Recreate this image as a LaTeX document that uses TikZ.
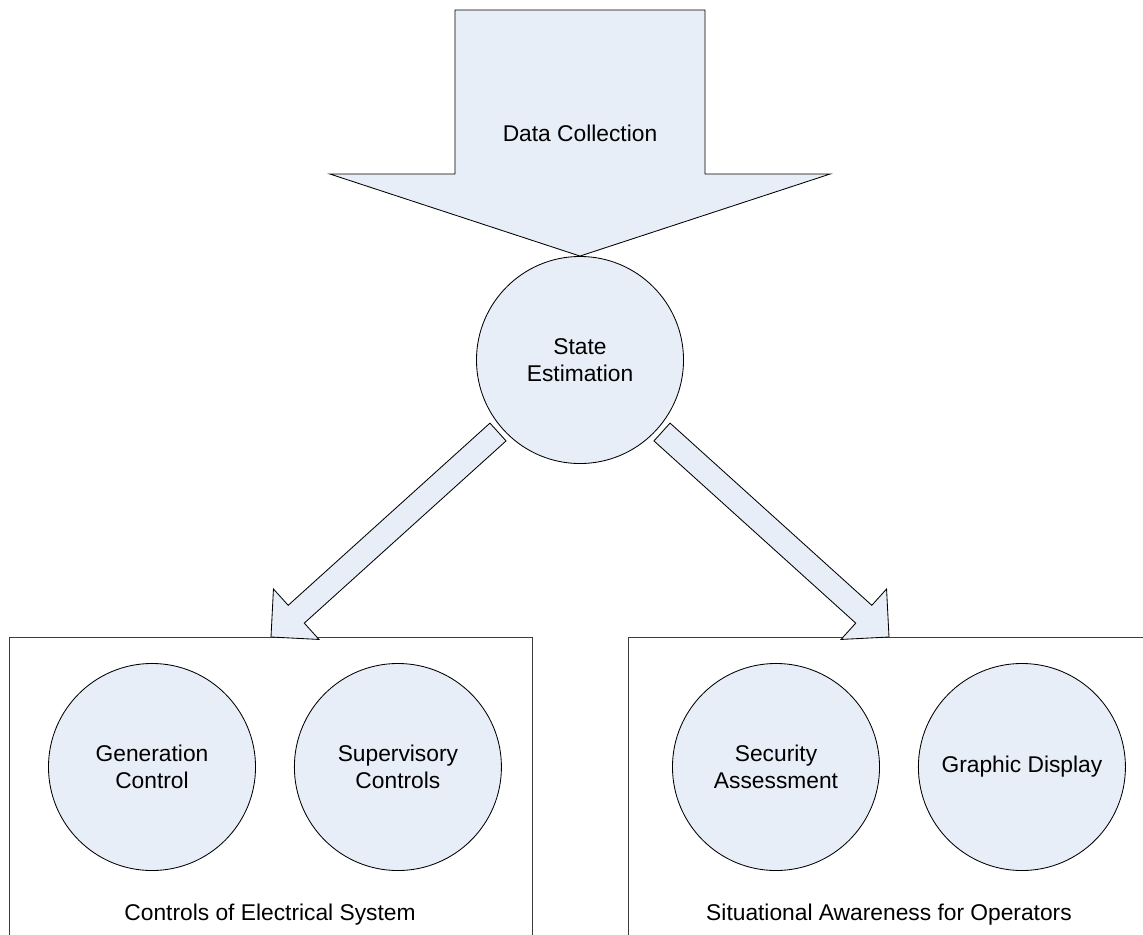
\documentclass[tikz,border=0pt]{standalone}
\usepackage{fontspec}
\setmainfont{Liberation Sans}
\usepackage{tikz}
\usetikzlibrary{positioning,calc}
\definecolor{bubblefill}{RGB}{232,238,247}
\definecolor{boxline}{RGB}{60,60,60}

% block arrow: tail, tip, shaft half width, head half width, head length
\newcommand{\blockarrow}[5]{%
  \coordinate (hb) at ($(#2)!#5!(#1)$);
  \draw[blockarr] ($(#1)!#3!90:(#2)$) -- ($(hb)!#3!90:(#2)$) -- ($(hb)!#4!90:(#2)$) -- (#2)
    -- ($(hb)!#4!-90:(#2)$) -- ($(hb)!#3!-90:(#2)$) -- ($(#1)!#3!-90:(#2)$) -- cycle;
}

\begin{document}
\begin{tikzpicture}[
    x=0.025cm, y=-0.025cm,
    font=\fontsize{16.2}{19.1}\selectfont,
    bubble/.style={circle, draw=black, fill=bubblefill, line width=0.6pt, minimum size=5.175cm, inner sep=0pt, align=center},
    groupbox/.style={rectangle, draw=boxline, line width=0.7pt, anchor=north west, minimum width=13.075cm, minimum height=7.7cm},
    blockarr/.style={draw=black, fill=bubblefill, line width=0.6pt, line join=miter}
]
    \useasboundingbox (0,0) rectangle (1143,934);
    \clip (0,0) rectangle (1143,934);

    % groups
    \node[groupbox] (ctrl) at (9,637) {};
    \node[groupbox] (aware) at (628,637) {};
    \node (ctrllbl) at (270,915) {Controls of Electrical System};
    \node (awarelbl) at (889,915) {Situational Awareness for Operators};

    % processes
    \node[bubble] (state) at (580,360) {State\\Estimation};
    \node[bubble] (gen) at (152,767) {Generation\\Control};
    \node[bubble, right=0.95cm of gen] (sup) {Supervisory\\Controls};
    \node[bubble] (sec) at (776,767) {Security\\Assessment};
    \node[bubble, right=0.95cm of sec] (disp) {Graphic Display};

    % data flow
    \coordinate (dctail) at (580,10);
    \blockarrow{dctail}{state.north}{3.125cm}{6.25cm}{2.05cm}
    \node (dc) at (580,133) {Data Collection};

    \coordinate (ltail) at (498,432);
    \coordinate (ltip) at ($(ctrl.north west)+(262,0)$);
    \blockarrow{ltail}{ltip}{0.3cm}{0.85cm}{0.85cm}

    \coordinate (rtail) at (662,432);
    \coordinate (rtip) at ($(aware.north west)+(261,0)$);
    \blockarrow{rtail}{rtip}{0.3cm}{0.85cm}{0.85cm}
\end{tikzpicture}
\end{document}
